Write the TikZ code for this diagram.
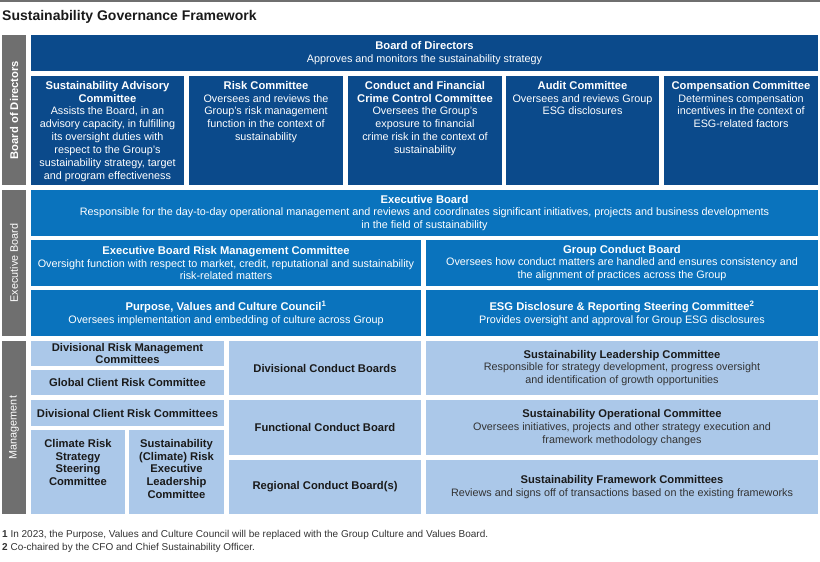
\documentclass[tikz,border=0pt]{standalone}
\usepackage{fontspec}
\setmainfont{Liberation Sans}
\usepackage{xcolor}
\usepackage{tikz}
\usetikzlibrary{positioning}
\definecolor{bodNavy}{HTML}{0B4A8B}
\definecolor{exbBlue}{HTML}{0A73BD}
\definecolor{mgmtLight}{HTML}{ABC8E9}
\definecolor{sideGray}{HTML}{6F6F6F}
\definecolor{inkDark}{HTML}{1A1A1A}
\definecolor{inkBody}{HTML}{333333}
\providecommand{\hd}[1]{{\fontsize{11.2}{12.9}\selectfont\bfseries #1}}

\begin{document}
\begin{tikzpicture}[x=1pt, y=-1pt,
  every node/.style={inner sep=0pt, align=center, font=\fontsize{10.8}{12.9}\selectfont},
  cell/.style 2 args={minimum width=#1, minimum height=#2},
  navybox/.style={fill=bodNavy, text=white},
  bluebox/.style={fill=exbBlue, text=white},
  lightbox/.style={fill=mgmtLight, text=inkBody},
  sidebar/.style={fill=sideGray, text=white, rotate=90}
]
\useasboundingbox (0,0) rectangle (820,562);
\draw[sideGray, line width=1.2pt] (0,1) -- (820,1);
\node[anchor=base west, font=\fontsize{14}{16}\selectfont\bfseries, text=inkDark] (title) at (2,20) {Sustainability Governance Framework};

% side labels
\node[sidebar, cell={150}{24}] (sbBod) at (14,110) {\hd{Board of Directors}};
\node[sidebar, cell={146}{24}] (sbExec) at (14,263) {\fontsize{10.8}{12}\selectfont Executive Board};
\node[sidebar, cell={173}{24}] (sbMgmt) at (14,427.5) {\fontsize{10.8}{12}\selectfont Management};

% board of directors
\node[navybox, cell={787}{36}] (bod) at (424.5,53) {\hd{Board of Directors}\\Approves and monitors the sustainability strategy};
\node[navybox, cell={153}{109}] (sac) at (107.5,130.5) {};
\node[navybox, cell={154}{109}] (rc) at (266,130.5) {};
\node[navybox, cell={154}{109}] (cfc) at (425,130.5) {};
\node[navybox, cell={153}{109}] (ac) at (582.5,130.5) {};
\node[navybox, cell={154}{109}] (cc) at (741,130.5) {};
\node[text=white, below=5pt of sac.north] (sacText) {\hd{Sustainability Advisory}\\\hd{Committee}\\Assists the Board, in an\\advisory capacity, in fulfilling\\its oversight duties with\\respect to the Group’s\\sustainability strategy, target\\and program effectiveness};
\node[text=white, below=5pt of rc.north] (rcText) {\hd{Risk Committee}\\Oversees and reviews the\\Group’s risk management\\function in the context of\\sustainability};
\node[text=white, below=5pt of cfc.north] (cfcText) {\hd{Conduct and Financial}\\\hd{Crime Control Committee}\\Oversees the Group’s\\exposure to financial\\crime risk in the context of\\sustainability};
\node[text=white, below=5pt of ac.north] (acText) {\hd{Audit Committee}\\Oversees and reviews Group\\ESG disclosures};
\node[text=white, below=5pt of cc.north] (ccText) {\hd{Compensation Committee}\\Determines compensation\\incentives in the context of\\ESG-related factors};

% executive board
\node[bluebox, cell={787}{46}] (exb) at (424.5,213) {\hd{Executive Board}\\Responsible for the day-to-day operational management and reviews and coordinates significant initiatives, projects and business developments\\in the field of sustainability};
\node[bluebox, cell={390}{46}] (ebrmc) at (226,263) {\hd{Executive Board Risk Management Committee}\\Oversight function with respect to market, credit, reputational and sustainability\\risk-related matters};
\node[bluebox, cell={392}{46}] (gcb) at (622,263) {\hd{Group Conduct Board}\\Oversees how conduct matters are handled and ensures consistency and\\the alignment of practices across the Group};
\node[bluebox, cell={390}{46}] (pvcc) at (226,313) {\hd{Purpose, Values and Culture Council\textsuperscript{1}}\\Oversees implementation and embedding of culture across Group};
\node[bluebox, cell={392}{46}] (esg) at (622,313) {\hd{ESG Disclosure \& Reporting Steering Committee\textsuperscript{2}}\\Provides oversight and approval for Group ESG disclosures};

% management
\node[lightbox, text=inkDark, cell={193}{25}] (drm) at (127.5,353.5) {\hd{Divisional Risk Management}\\\hd{Committees}};
\node[lightbox, text=inkDark, cell={193}{25}] (gcr) at (127.5,382.5) {\hd{Global Client Risk Committee}};
\node[lightbox, text=inkDark, cell={193}{26}] (dcr) at (127.5,413) {\hd{Divisional Client Risk Committees}};
\node[lightbox, cell={94}{84}] (crs) at (78,472) {};
\node[lightbox, cell={95}{84}] (scr) at (176.5,472) {};
\node[text=inkDark, below=9pt of crs.north] (crsText) {\hd{Climate Risk}\\\hd{Strategy}\\\hd{Steering}\\\hd{Committee}};
\node[text=inkDark, below=9pt of scr.north] (scrText) {\hd{Sustainability}\\\hd{(Climate) Risk}\\\hd{Executive}\\\hd{Leadership}\\\hd{Committee}};
\node[lightbox, text=inkDark, cell={192}{54}] (dcb) at (325,368) {\hd{Divisional Conduct Boards}};
\node[lightbox, text=inkDark, cell={192}{55}] (fcb) at (325,427.5) {\hd{Functional Conduct Board}};
\node[lightbox, text=inkDark, cell={192}{54}] (rcb) at (325,487) {\hd{Regional Conduct Board(s)}};
\node[lightbox, cell={392}{54}] (slc) at (622,368) {\textcolor{inkDark}{\hd{Sustainability Leadership Committee}}\\Responsible for strategy development, progress oversight\\and identification of growth opportunities};
\node[lightbox, cell={392}{55}] (soc) at (622,427.5) {\textcolor{inkDark}{\hd{Sustainability Operational Committee}}\\Oversees initiatives, projects and other strategy execution and\\framework methodology changes};
\node[lightbox, cell={392}{54}] (sfc) at (622,487) {\textcolor{inkDark}{\hd{Sustainability Framework Committees}}\\Reviews and signs off of transactions based on the existing frameworks};

% footnotes
\node[anchor=base west, font=\fontsize{10}{12}\selectfont, text=inkBody] (fnOne) at (2,537) {\textbf{1} In 2023, the Purpose, Values and Culture Council will be replaced with the Group Culture and Values Board.};
\node[anchor=base west, font=\fontsize{10}{12}\selectfont, text=inkBody] (fnTwo) at (2,550) {\textbf{2} Co-chaired by the CFO and Chief Sustainability Officer.};
\end{tikzpicture}
\end{document}
